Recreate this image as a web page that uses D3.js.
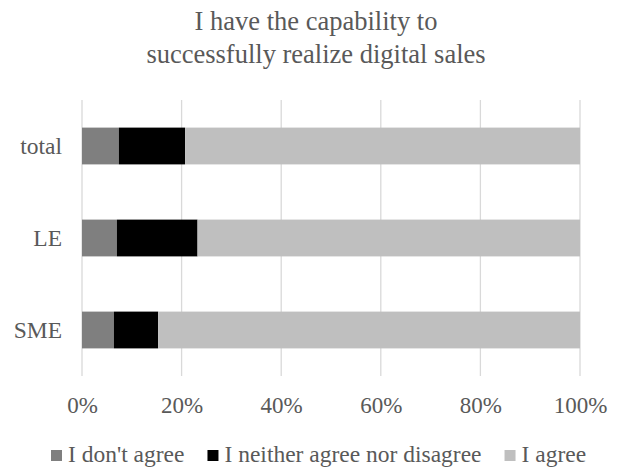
<!DOCTYPE html>
<html>
<head>
<meta charset="utf-8">
<script src="https://cdn.jsdelivr.net/npm/d3@7"></script>
<style>
  html, body { margin: 0; padding: 0; background: #fff; }
  svg { display: block; }
</style>
</head>
<body>
<svg id="chart" width="617" height="467"></svg>
<script>
const titleLines = ["I have the capability to", "successfully realize digital sales"];
const categories = ["total", "LE", "SME"];
const seriesNames = ["I don't agree", "I neither agree nor disagree", "I agree"];
const disagree = [7.4, 7.0, 6.4];
const neutral = [13.3, 16.2, 8.9];
const agree = [79.3, 76.8, 84.7];
const tickValues = [0, 20, 40, 60, 80, 100];
const colors = ["#7f7f7f", "#000000", "#bfbfbf"];

const FONT = "'Liberation Serif', 'Times New Roman', Tinos, 'DejaVu Serif', serif";
const TXT = "#595959";

const svg = d3.select("#chart");
const W = 617, H = 467;
const margin = { left: 82, right: 37, top: 100, bottom: 91 };

const rows = categories.map((c, i) => ({ cat: c, d: disagree[i], n: neutral[i], a: agree[i] }));
const stacked = d3.stack().keys(["d", "n", "a"])(rows);

const x = d3.scaleLinear().domain([0, 100]).range([margin.left, W - margin.right]);
const y = d3.scaleBand().domain(categories).range([margin.top, H - margin.bottom]).paddingInner(0.6).paddingOuter(0.3);

// title
svg.append("text")
  .attr("text-anchor", "middle")
  .attr("font-family", FONT).attr("fill", TXT)
  .attr("font-size", 26.5)
  .selectAll("tspan").data(titleLines).join("tspan")
  .attr("x", 316)
  .attr("y", (d, i) => 30 + i * 33)
  .text(d => d);

// gridlines
svg.append("g")
  .selectAll("line").data(tickValues).join("line")
  .attr("x1", d => x(d)).attr("x2", d => x(d))
  .attr("y1", margin.top).attr("y2", H - margin.bottom)
  .attr("stroke", "#d9d9d9").attr("stroke-width", 1.3);

// bars
svg.append("g")
  .selectAll("g").data(stacked).join("g")
  .attr("fill", (d, i) => colors[i])
  .selectAll("rect").data(d => d).join("rect")
  .attr("x", d => x(d[0]))
  .attr("width", d => x(d[1]) - x(d[0]))
  .attr("y", d => y(d.data.cat))
  .attr("height", y.bandwidth());

// x axis labels
const xAxis = d3.axisBottom(x).tickValues(tickValues).tickFormat(d => d + "%").tickSize(0).tickPadding(0);
const gx = svg.append("g").attr("transform", `translate(0, ${H - margin.bottom})`).call(xAxis)
  .attr("font-family", FONT).attr("font-size", 23);
gx.select(".domain").remove();
gx.selectAll("text").attr("dy", null).attr("y", 37).attr("fill", TXT);

// y axis labels
const yAxis = d3.axisLeft(y).tickSize(0).tickPadding(20);
const gy = svg.append("g").attr("transform", `translate(${margin.left}, 0)`).call(yAxis)
  .attr("font-family", FONT).attr("font-size", 23.5);
gy.select(".domain").remove();
gy.selectAll("text").attr("dy", "0.35em").attr("fill", TXT);

// legend
const legend = svg.append("g").attr("font-family", FONT).attr("font-size", 23.5);
let lx = 51;
const ly = 462;
seriesNames.forEach((name, i) => {
  legend.append("rect").attr("x", lx).attr("y", ly - 12).attr("width", 11).attr("height", 11).attr("fill", colors[i]);
  const t = legend.append("text").attr("x", lx + 17).attr("y", ly).attr("fill", TXT).text(name);
  const w = t.node().getComputedTextLength();
  lx = lx + 17 + w + 23;
});
</script>
</body>
</html>
